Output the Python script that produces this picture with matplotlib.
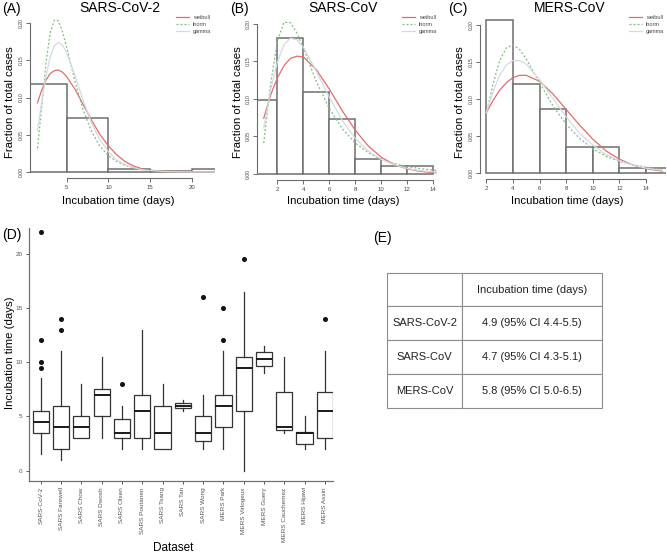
import matplotlib
matplotlib.use('Agg')
import matplotlib.pyplot as plt
import numpy as np

plt.rcParams['font.family'] = ['Liberation Sans', 'DejaVu Sans']

# ---------------- data ----------------
titles = ['SARS-CoV-2', 'SARS-CoV', 'MERS-CoV']
panel_tags = ['(A)', '(B)', '(C)']
curve_names = ['weibull', 'lnorm', 'gamma']

A_edges = [0, 5, 10, 15, 20, 25]
A_heights = [0.118, 0.073, 0.004, 0.001, 0.004]
A_x = [1.5, 2, 2.5, 3, 3.5, 4, 4.5, 5, 6, 7, 8, 9, 10, 11, 12, 13, 14, 15, 17, 20, 22.7]
A_weibull = [0.093, 0.110, 0.123, 0.132, 0.136, 0.137, 0.134, 0.128, 0.111, 0.090, 0.069, 0.050,
             0.035, 0.023, 0.014, 0.008, 0.0045, 0.0024, 0.0006, 0.0001, 0.0]
A_lnorm = [0.032, 0.087, 0.145, 0.186, 0.204, 0.203, 0.188, 0.167, 0.121, 0.082, 0.054, 0.034,
           0.022, 0.014, 0.009, 0.006, 0.0037, 0.0024, 0.0011, 0.0004, 0.0001]
A_gamma = [0.056, 0.094, 0.128, 0.154, 0.169, 0.174, 0.170, 0.160, 0.129, 0.095, 0.065, 0.043,
           0.027, 0.016, 0.010, 0.006, 0.003, 0.002, 0.0005, 0.0001, 0.0]
A_xticks = [5, 10, 15, 20]

B_edges = [0, 2, 4, 6, 8, 10, 12, 14]
B_heights = [0.099, 0.181, 0.109, 0.0726, 0.020, 0.010, 0.010]
B_x = [0.95, 1.5, 2, 2.5, 3, 3.5, 4, 5, 6, 7, 8, 9, 10, 11, 12, 13, 14, 14.3]
B_weibull = [0.074, 0.106, 0.128, 0.144, 0.154, 0.157, 0.156, 0.139, 0.113, 0.084, 0.058, 0.037,
             0.022, 0.012, 0.0065, 0.0032, 0.0015, 0.0012]
B_lnorm = [0.041, 0.122, 0.177, 0.202, 0.202, 0.188, 0.168, 0.123, 0.087, 0.060, 0.041, 0.028,
           0.019, 0.0135, 0.0095, 0.0068, 0.0048, 0.0044]
B_gamma = [0.061, 0.113, 0.149, 0.172, 0.181, 0.179, 0.169, 0.137, 0.102, 0.071, 0.047, 0.030,
           0.019, 0.012, 0.007, 0.004, 0.0024, 0.002]
B_xticks = [2, 4, 6, 8, 10, 12, 14]

C_edges = [2, 4, 6, 8, 10, 12, 14, 16]
C_heights = [0.206, 0.121, 0.086, 0.0355, 0.0355, 0.0077, 0.0077]
C_x = [2, 2.5, 3, 3.5, 4, 4.5, 5, 6, 7, 8, 9, 10, 11, 12, 13, 14, 15.2]
C_weibull = [0.082, 0.098, 0.112, 0.122, 0.129, 0.132, 0.132, 0.124, 0.107, 0.086, 0.065, 0.046,
             0.030, 0.019, 0.011, 0.0063, 0.0029]
C_lnorm = [0.080, 0.120, 0.152, 0.169, 0.173, 0.167, 0.154, 0.122, 0.091, 0.066, 0.047, 0.033,
           0.023, 0.016, 0.0115, 0.0082, 0.0054]
C_gamma = [0.082, 0.110, 0.132, 0.146, 0.152, 0.152, 0.147, 0.126, 0.101, 0.076, 0.054, 0.038,
           0.025, 0.017, 0.011, 0.0069, 0.0039]
C_xticks = [2, 4, 6, 8, 10, 12, 14]

hist_yticks = [0.0, 0.05, 0.10, 0.15, 0.20]
hist_yticklabels = ['0.00', '0.05', '0.10', '0.15', '0.20']

ds_labels = ['SARS-CoV-2', 'SARS Farewell', 'SARS Chow', 'SARS Dwosh', 'SARS Olsen',
             'SARS Poutanen', 'SARS Tsang', 'SARS Tan', 'SARS Wong', 'MERS Park',
             'MERS Virlogeux', 'MERS Guery', 'MERS Cauchemez', 'MERS Hijawi', 'MERS Assiri']
box_q1 = [3.5, 2.0, 3.0, 5.0, 3.0, 3.0, 2.0, 5.75, 2.75, 4.0, 5.5, 9.65, 3.75, 2.5, 3.0]
box_med = [4.5, 4.0, 4.0, 7.0, 3.5, 5.5, 3.5, 6.0, 3.5, 6.0, 9.5, 10.25, 4.05, 3.5, 5.5]
box_q3 = [5.5, 6.0, 5.0, 7.5, 4.75, 7.0, 6.0, 6.25, 5.0, 7.0, 10.5, 10.9, 7.27, 3.55, 7.27]
box_lo = [1.5, 1.0, 3.0, 3.0, 2.0, 2.0, 2.0, 5.5, 2.0, 2.0, 0.0, 9.0, 3.5, 2.0, 2.0]
box_hi = [8.5, 11.0, 8.0, 10.5, 6.0, 13.0, 8.0, 6.5, 7.0, 11.0, 16.5, 11.5, 10.5, 5.0, 11.0]
box_out = [[22, 12, 10, 9.5], [14, 13], [], [], [8], [], [], [], [16], [15, 12],
           [19.5], [], [], [], [14]]
box_yticks = [0, 5, 10, 15, 20]

table_header = ['', 'Incubation time (days)']
table_rows = ['SARS-CoV-2', 'SARS-CoV', 'MERS-CoV']
table_values = ['4.9 (95% CI 4.4-5.5)', '4.7 (95% CI 4.3-5.1)', '5.8 (95% CI 5.0-6.5)']

# ---------------- figure ----------------
W, H = 667, 554
fig = plt.figure(figsize=(W / 100, H / 100), dpi=100)


def px_axes(l, t, r, b):
    return fig.add_axes([l / W, 1 - b / H, (r - l) / W, (b - t) / H])


curve_styles = [dict(color='#e36b6b', lw=0.9, ls='-'),
                dict(color='#82be82', lw=0.9, ls=(0, (1.6, 1.6))),
                dict(color='#d3dbe2', lw=0.9, ls='-')]

panels = [
    dict(box=(30, 15.6, 214.5, 178), xlim=(0.6, 22.7), edges=A_edges, heights=A_heights,
         x=A_x, curves=[A_weibull, A_lnorm, A_gamma], xticks=A_xticks,
         tagx=2, titlex=120, ylabx=10, xlabx=118, legx=176),
    dict(box=(256.7, 16.5, 437.2, 179.7), xlim=(0.41, 14.3), edges=B_edges, heights=B_heights,
         x=B_x, curves=[B_weibull, B_lnorm, B_gamma], xticks=B_xticks,
         tagx=230, titlex=343, ylabx=238, xlabx=343, legx=402),
    dict(box=(479.7, 17.5, 666, 179.2), xlim=(1.5, 15.5), edges=C_edges, heights=C_heights,
         x=C_x, curves=[C_weibull, C_lnorm, C_gamma], xticks=C_xticks,
         tagx=448, titlex=570, ylabx=460, xlabx=567, legx=629),
]

axis_col = '#6b6b6b'
for i, p in enumerate(panels):
    ax = px_axes(*p['box'])
    e = np.array(p['edges'], dtype=float)
    ax.bar(e[:-1], p['heights'], width=np.diff(e), align='edge', facecolor='white',
           edgecolor='#6e6e6e', linewidth=1.1, zorder=1)
    handles = []
    for name, yv, st in zip(curve_names, p['curves'], curve_styles):
        h, = ax.plot(p['x'], yv, label=name, zorder=3, **st)
        handles.append(h)
    ax.set_xlim(*p['xlim'])
    ax.set_ylim(-0.008, 0.21)
    for s in ['top', 'right']:
        ax.spines[s].set_visible(False)
    ax.spines['left'].set_bounds(0, 0.2)
    ax.spines['bottom'].set_bounds(p['xticks'][0], p['xticks'][-1])
    for s in ['left', 'bottom']:
        ax.spines[s].set_color(axis_col)
        ax.spines[s].set_linewidth(0.8)
    ax.set_xticks(p['xticks'])
    ax.set_xticklabels([str(t) for t in p['xticks']])
    ax.set_yticks(hist_yticks)
    ax.set_yticklabels(hist_yticklabels, rotation=90, va='center')
    ax.tick_params(axis='both', length=3, width=0.7, color=axis_col, labelsize=4.3,
                   labelcolor='#444444', pad=2)
    ax.tick_params(axis='y', labelsize=3.6, pad=1.5)
    ax.patch.set_alpha(0)
    leg = ax.legend(handles=handles, loc='upper left',
                    bbox_to_anchor=(p['legx'] / W, 1 - 15 / H), bbox_transform=fig.transFigure,
                    frameon=False, fontsize=4, handlelength=2.4, handletextpad=0.6,
                    labelspacing=0.35, borderpad=0, borderaxespad=0)
    for t in leg.get_texts():
        t.set_color('#444444')
    fig.text(p['tagx'] / W, 1 - 8.5 / H, panel_tags[i], ha='left', va='center', fontsize=10)
    fig.text(p['titlex'] / W, 1 - 8 / H, titles[i], ha='center', va='center', fontsize=10)
    fig.text(p['ylabx'] / W, 1 - 102 / H, 'Fraction of total cases', rotation=90,
             ha='center', va='center', fontsize=8.2)
    fig.text(p['xlabx'] / W, 1 - 201 / H, 'Incubation time (days)', ha='center', va='center',
             fontsize=8.2)

# ---------------- panel D: box plots ----------------
axd = px_axes(29, 228, 333, 481)
stats = []
for i in range(len(ds_labels)):
    stats.append(dict(med=box_med[i], q1=box_q1[i], q3=box_q3[i], whislo=box_lo[i],
                      whishi=box_hi[i], fliers=box_out[i], label=ds_labels[i]))
pos = np.arange(1, len(ds_labels) + 1)
axd.bxp(stats, positions=pos, widths=0.8, showcaps=False, patch_artist=True,
        boxprops=dict(facecolor='white', edgecolor='#333333', linewidth=0.9),
        medianprops=dict(color='#1a1a1a', linewidth=1.4),
        whiskerprops=dict(color='#333333', linewidth=0.9),
        flierprops=dict(marker='o', markersize=2.6, markerfacecolor='#111111',
                        markeredgecolor='#111111', linestyle='none'))
axd.set_xlim(0.42, 15.4)
axd.set_ylim(-0.95, 22.35)
for s in ['top', 'right']:
    axd.spines[s].set_visible(False)
for s in ['left', 'bottom']:
    axd.spines[s].set_color('#707070')
    axd.spines[s].set_linewidth(0.9)
axd.set_xticks(pos)
axd.set_xticklabels(ds_labels, rotation=90, va='top', ha='center')
axd.set_yticks(box_yticks)
axd.set_yticklabels([str(t) for t in box_yticks])
axd.tick_params(axis='both', length=2.5, width=0.7, color='#555555', labelsize=4.6,
                labelcolor='#555555', pad=2)
axd.patch.set_alpha(0)
fig.text(2 / W, 1 - 235 / H, '(D)', ha='left', va='center', fontsize=10)
fig.text(10 / W, 1 - 353 / H, 'Incubation time (days)', rotation=90, ha='center',
         va='center', fontsize=8.2)
fig.text(173 / W, 1 - 548 / H, 'Dataset', ha='center', va='center', fontsize=8.5)

# ---------------- panel E: table ----------------
fig.text(382 / W, 1 - 238 / H, '(E)', ha='center', va='center', fontsize=10)
axt = px_axes(386.7, 272.7, 601.7, 407.7)
axt.axis('off')
cell_text = [table_header] + [[r, v] for r, v in zip(table_rows, table_values)]
tw = 601.7 - 386.7
tbl = axt.table(cellText=cell_text, cellLoc='center', bbox=[0, 0, 1, 1],
                colWidths=[(462.3 - 386.7) / tw, (601.7 - 462.3) / tw])
tbl.auto_set_font_size(False)
for (r, c), cell in tbl.get_celld().items():
    cell.set_edgecolor('#8c8c8c')
    cell.set_linewidth(0.8)
    cell.get_text().set_fontsize(8)
    cell.get_text().set_color('#222222')

fig.savefig('out.png', dpi=100)
